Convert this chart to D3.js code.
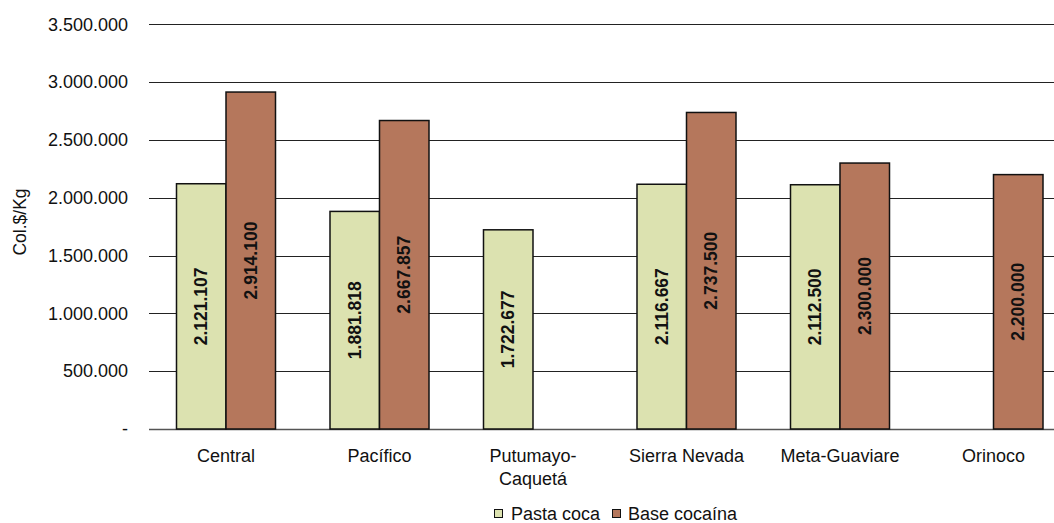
<!DOCTYPE html>
<html>
<head>
<meta charset="utf-8">
<script src="https://cdn.jsdelivr.net/npm/d3@7"></script>
<style>
  html, body { margin: 0; padding: 0; background: #fff; }
  svg { display: block; font-family: "Liberation Sans", Arial, sans-serif; }
</style>
</head>
<body>
<svg id="chart" width="1054" height="523"></svg>
<script>
// Regions and average price per kilogram (Col.$/Kg)
const regions = ["Central", "Pacífico", "Putumayo-\nCaquetá", "Sierra Nevada", "Meta-Guaviare", "Orinoco"];
const seriesNames = ["Pasta coca", "Base cocaína"];
const pastaCoca = [2121107, 1881818, 1722677, 2116667, 2112500, null];
const baseCocaina = [2914100, 2667857, null, 2737500, 2300000, 2200000];
const yTicks = [0, 500000, 1000000, 1500000, 2000000, 2500000, 3000000, 3500000];
const colors = ["#dce2b0", "#b5775c"];

const svg = d3.select("#chart");
const W = 1054;

const locale = d3.formatLocale({ decimal: ",", thousands: ".", grouping: [3], currency: ["$", ""] });
const fmt = locale.format(",.0f");
const tickFmt = v => v === 0 ? "-" : fmt(v);

const x = d3.scaleBand()
  .domain(regions)
  .range([149.25, 1070.25])
  .paddingInner(0.355)
  .paddingOuter(0.1775);

const xSub = d3.scaleBand()
  .domain(seriesNames)
  .range([0, x.bandwidth()]);

const y = d3.scaleLinear()
  .domain([0, 3500000])
  .range([429, 24.3]);

// Horizontal gridlines
svg.append("g")
  .selectAll("line")
  .data(yTicks)
  .join("line")
  .attr("x1", 149)
  .attr("x2", W)
  .attr("y1", d => Math.round(y(d)) + 0.5)
  .attr("y2", d => Math.round(y(d)) + 0.5)
  .attr("stroke", d => d === 0 ? "#555" : "#222")
  .attr("stroke-width", d => d === 0 ? 1.5 : 1);

// Y tick labels
svg.append("g")
  .selectAll("text")
  .data(yTicks)
  .join("text")
  .attr("x", 128)
  .attr("y", d => y(d))
  .attr("dy", "0.35em")
  .attr("text-anchor", "end")
  .attr("font-size", 18)
  .attr("fill", "#111")
  .text(tickFmt);

// Y axis title
svg.append("text")
  .attr("transform", "translate(26,222) rotate(-90)")
  .attr("text-anchor", "middle")
  .attr("font-size", 17.5)
  .attr("fill", "#111")
  .text("Col.$/Kg");

// Bars
const rows = regions.map((r, i) => ({ region: r, values: [pastaCoca[i], baseCocaina[i]] }));
const groups = svg.append("g")
  .selectAll("g")
  .data(rows)
  .join("g")
  .attr("transform", d => `translate(${x(d.region)},0)`);

const bars = groups.selectAll("g")
  .data(d => d.values.map((v, k) => ({ key: seriesNames[k], k, v })).filter(e => e.v != null))
  .join("g");

bars.append("rect")
  .attr("x", d => xSub(d.key))
  .attr("y", d => y(d.v))
  .attr("width", xSub.bandwidth())
  .attr("height", d => y(0) - y(d.v))
  .attr("fill", d => colors[d.k])
  .attr("stroke", "#111")
  .attr("stroke-width", 1.5);

bars.append("text")
  .attr("transform", d => `translate(${xSub(d.key) + xSub.bandwidth() / 2},${(y(d.v) + y(0)) / 2}) rotate(-90)`)
  .attr("text-anchor", "middle")
  .attr("dy", "0.35em")
  .attr("font-size", 17.5)
  .attr("font-weight", "bold")
  .attr("fill", "#111")
  .text(d => fmt(d.v));

// Category labels
const xl = svg.append("g")
  .selectAll("text")
  .data(regions)
  .join("text")
  .attr("x", d => x(d) + x.bandwidth() / 2)
  .attr("y", 462)
  .attr("text-anchor", "middle")
  .attr("font-size", 18)
  .attr("fill", "#111");
xl.selectAll("tspan")
  .data(d => d.split("\n"))
  .join("tspan")
  .attr("x", function () { return d3.select(this.parentNode).attr("x"); })
  .attr("dy", (d, i) => i === 0 ? 0 : 23)
  .text(d => d);

// Legend
const legendX = [494, 612];
const legend = svg.append("g")
  .selectAll("g")
  .data(seriesNames)
  .join("g")
  .attr("transform", (d, i) => `translate(${legendX[i]},0)`);
legend.append("rect")
  .attr("x", 0.5)
  .attr("y", 509.5)
  .attr("width", 8)
  .attr("height", 8)
  .attr("fill", (d, i) => colors[i])
  .attr("stroke", "#111")
  .attr("stroke-width", 1);
legend.append("text")
  .attr("x", (d, i) => i === 0 ? 17 : 16)
  .attr("y", 520)
  .attr("font-size", 18)
  .attr("fill", "#111")
  .text(d => d);
</script>
</body>
</html>
